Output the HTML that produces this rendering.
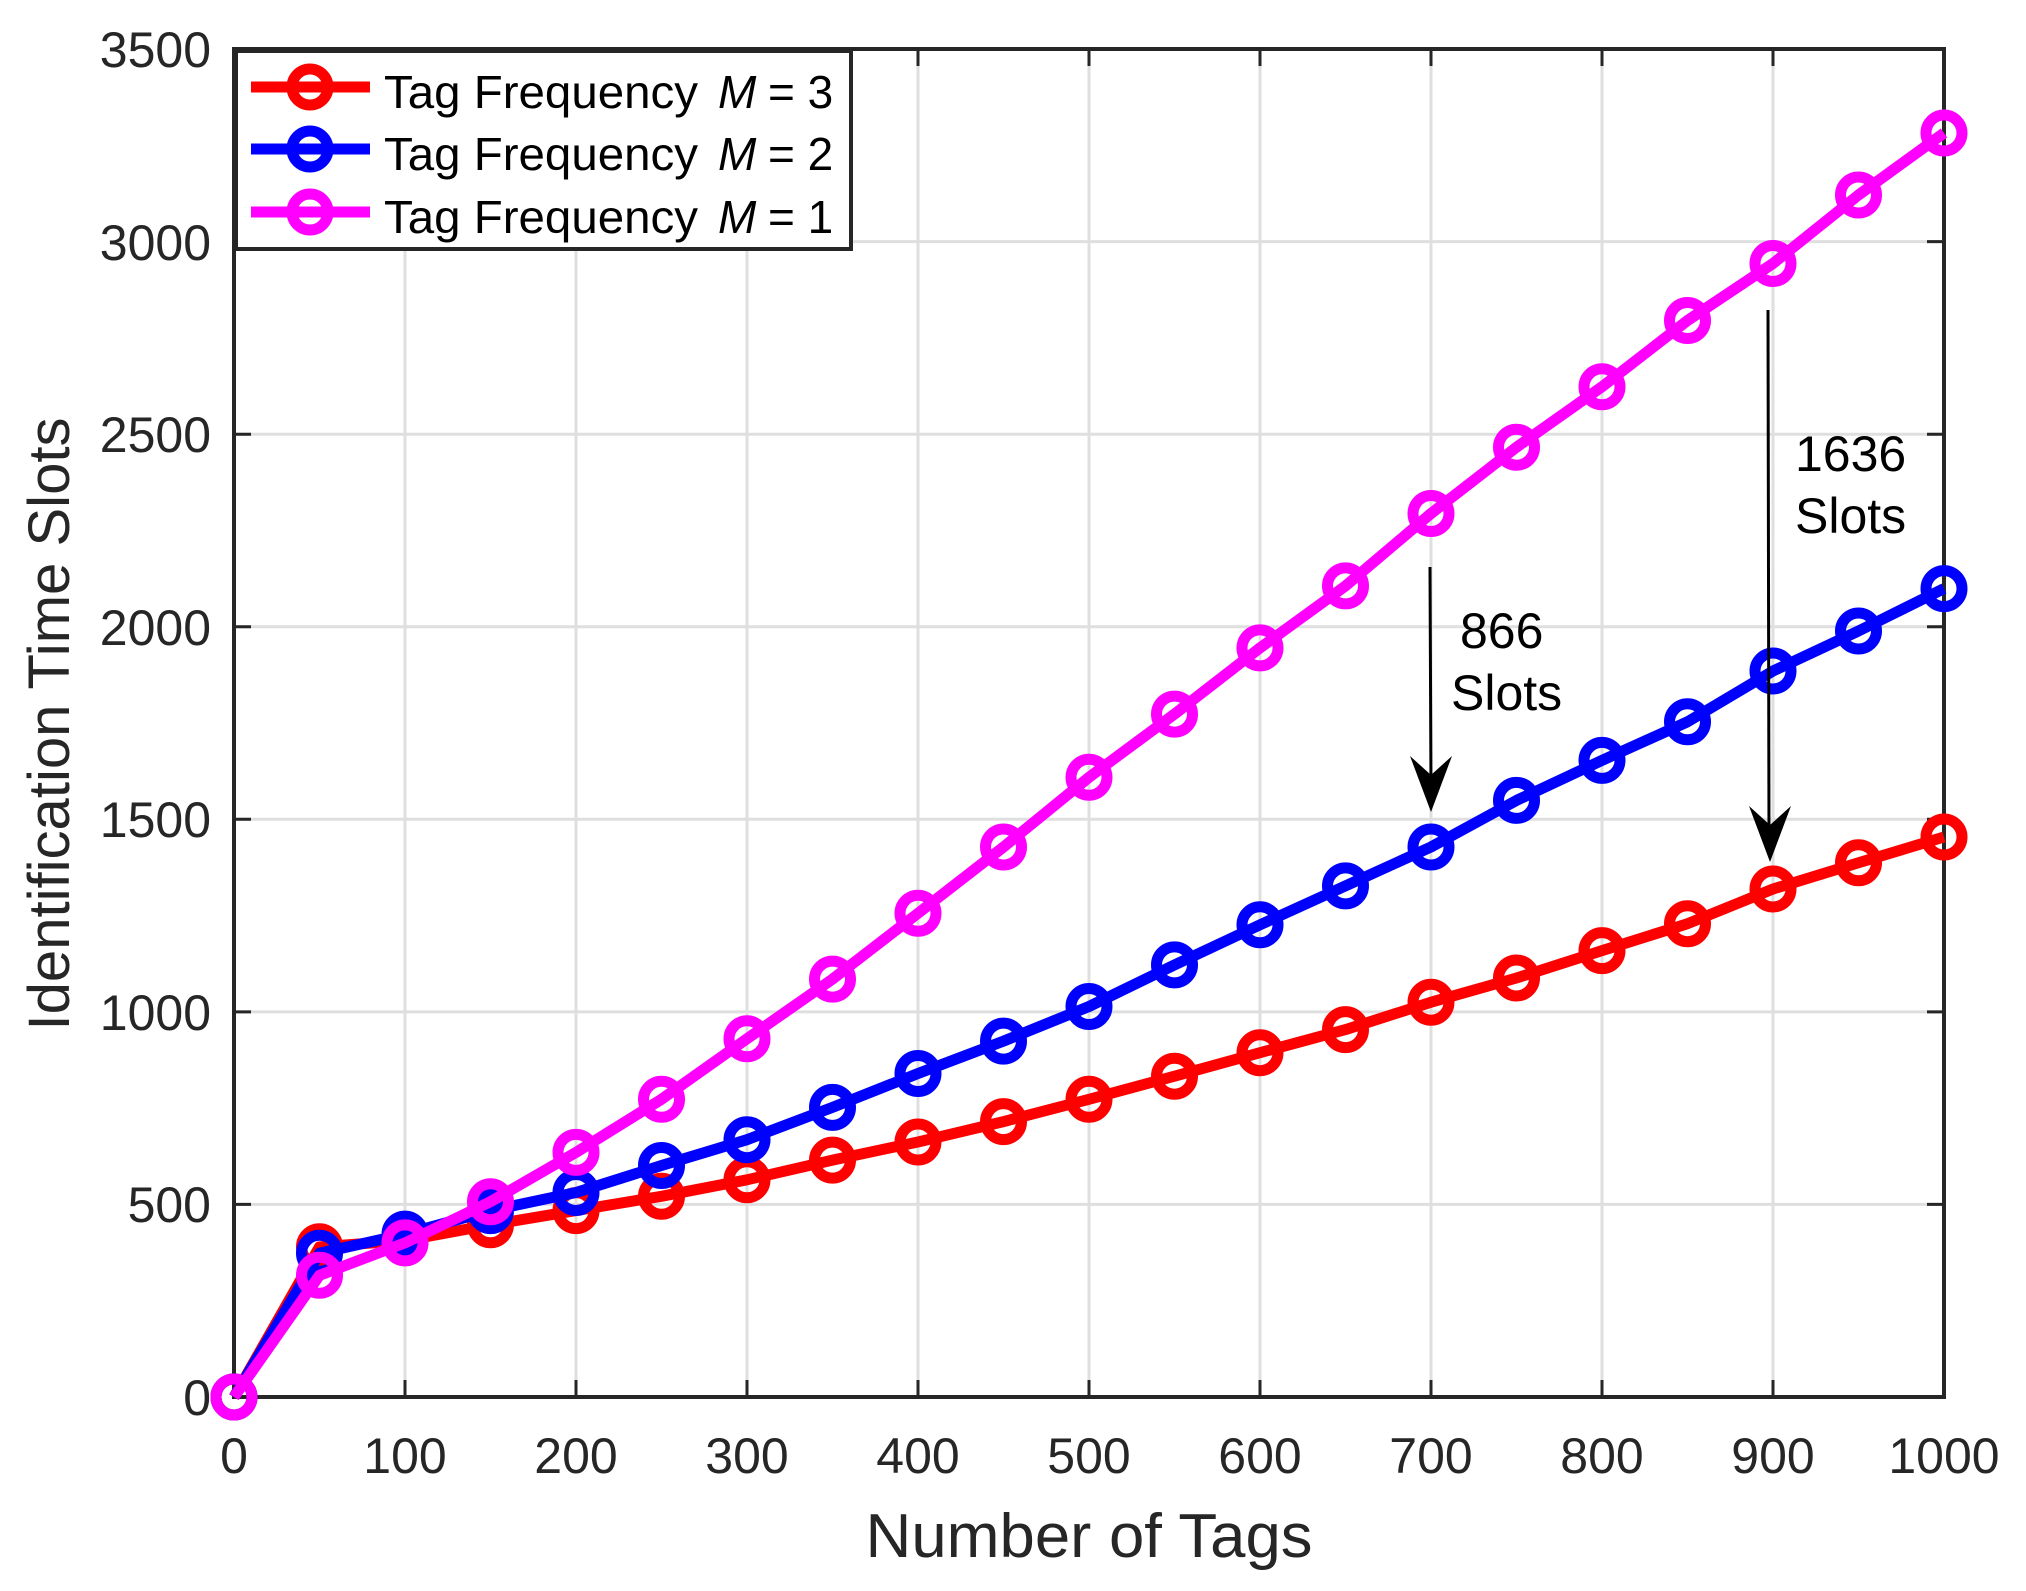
<!DOCTYPE html>
<html><head><meta charset="utf-8"><style>
html,body{margin:0;padding:0;background:#fff;}
svg{display:block;}
text{font-family:"Liberation Sans",Arial,sans-serif;}
</style></head><body>
<svg width="2026" height="1591" viewBox="0 0 2026 1591" xmlns="http://www.w3.org/2000/svg">
<rect width="2026" height="1591" fill="#fff"/>
<g stroke="#dfdfdf" stroke-width="3">
<line x1="405" y1="49" x2="405" y2="1397"/><line x1="576" y1="49" x2="576" y2="1397"/>
<line x1="747" y1="49" x2="747" y2="1397"/><line x1="918" y1="49" x2="918" y2="1397"/>
<line x1="1089" y1="49" x2="1089" y2="1397"/><line x1="1260" y1="49" x2="1260" y2="1397"/>
<line x1="1431" y1="49" x2="1431" y2="1397"/><line x1="1602" y1="49" x2="1602" y2="1397"/>
<line x1="1773" y1="49" x2="1773" y2="1397"/>
<line x1="234" y1="1204.4" x2="1944" y2="1204.4"/><line x1="234" y1="1011.9" x2="1944" y2="1011.9"/>
<line x1="234" y1="819.3" x2="1944" y2="819.3"/><line x1="234" y1="626.7" x2="1944" y2="626.7"/>
<line x1="234" y1="434.2" x2="1944" y2="434.2"/><line x1="234" y1="241.6" x2="1944" y2="241.6"/>
</g>
<g stroke="#262626" stroke-width="3">
<path d="M405 1397v-17M576 1397v-17M747 1397v-17M918 1397v-17M1089 1397v-17M1260 1397v-17M1431 1397v-17M1602 1397v-17M1773 1397v-17
M405 49v17M576 49v17M747 49v17M918 49v17M1089 49v17M1260 49v17M1431 49v17M1602 49v17M1773 49v17
M234 1204.4h17M234 1011.9h17M234 819.3h17M234 626.7h17M234 434.2h17M234 241.6h17
M1944 1204.4h-17M1944 1011.9h-17M1944 819.3h-17M1944 626.7h-17M1944 434.2h-17M1944 241.6h-17"/>
</g>
<rect x="234" y="49" width="1710" height="1348" fill="none" stroke="#262626" stroke-width="4"/>
<g fill="#262626" font-size="50" text-anchor="end">
<text x="211" y="1415">0</text><text x="211" y="1222">500</text><text x="211" y="1030">1000</text>
<text x="211" y="837">1500</text><text x="211" y="645">2000</text><text x="211" y="452">2500</text>
<text x="211" y="260">3000</text><text x="211" y="67">3500</text>
</g>
<g fill="#262626" font-size="50" text-anchor="middle">
<text x="234" y="1473">0</text><text x="405" y="1473">100</text><text x="576" y="1473">200</text>
<text x="747" y="1473">300</text><text x="918" y="1473">400</text><text x="1089" y="1473">500</text>
<text x="1260" y="1473">600</text><text x="1431" y="1473">700</text><text x="1602" y="1473">800</text>
<text x="1773" y="1473">900</text><text x="1944" y="1473">1000</text>
</g>
<text x="1089" y="1557" font-size="62" fill="#262626" text-anchor="middle" textLength="447" lengthAdjust="spacingAndGlyphs">Number of Tags</text>
<text transform="translate(69,724) rotate(-90)" font-size="58" fill="#262626" text-anchor="middle" textLength="613" lengthAdjust="spacingAndGlyphs">Identification Time Slots</text>

<g fill="none" stroke-width="11" stroke-linejoin="round">
<polyline stroke="#ff0000" points="234,1397 319.5,1246.8 405,1240.6 490.5,1224.8 576,1210.6 661.5,1196.3 747,1179.8 832.5,1160.1 918,1142 1003.5,1121.6 1089,1099.3 1174.5,1076.2 1260,1052.7 1345.5,1029.6 1431,1002.2 1516.5,978 1602,950.6 1687.5,923.7 1773,889 1858.5,862.8 1944,837"/>
<g stroke="#ff0000" stroke-width="11">
<circle cx="234" cy="1397" r="18"/><circle cx="319.5" cy="1246.8" r="18"/><circle cx="405" cy="1240.6" r="18"/><circle cx="490.5" cy="1224.8" r="18"/><circle cx="576" cy="1210.6" r="18"/><circle cx="661.5" cy="1196.3" r="18"/><circle cx="747" cy="1179.8" r="18"/><circle cx="832.5" cy="1160.1" r="18"/><circle cx="918" cy="1142" r="18"/><circle cx="1003.5" cy="1121.6" r="18"/><circle cx="1089" cy="1099.3" r="18"/><circle cx="1174.5" cy="1076.2" r="18"/><circle cx="1260" cy="1052.7" r="18"/><circle cx="1345.5" cy="1029.6" r="18"/><circle cx="1431" cy="1002.2" r="18"/><circle cx="1516.5" cy="978" r="18"/><circle cx="1602" cy="950.6" r="18"/><circle cx="1687.5" cy="923.7" r="18"/><circle cx="1773" cy="889" r="18"/><circle cx="1858.5" cy="862.8" r="18"/><circle cx="1944" cy="837" r="18"/>
</g>
<polyline stroke="#0000ff" points="234,1397 319.5,1253.3 405,1234.1 490.5,1210.6 576,1192.5 661.5,1165.5 747,1139.7 832.5,1107.4 918,1073.5 1003.5,1041.1 1089,1006.5 1174.5,964.9 1260,924.8 1345.5,885.9 1431,847 1516.5,800.4 1602,760.4 1687.5,721.8 1773,671 1858.5,631 1944,588.6"/>
<g stroke="#0000ff" stroke-width="11">
<circle cx="234" cy="1397" r="18"/><circle cx="319.5" cy="1253.3" r="18"/><circle cx="405" cy="1234.1" r="18"/><circle cx="490.5" cy="1210.6" r="18"/><circle cx="576" cy="1192.5" r="18"/><circle cx="661.5" cy="1165.5" r="18"/><circle cx="747" cy="1139.7" r="18"/><circle cx="832.5" cy="1107.4" r="18"/><circle cx="918" cy="1073.5" r="18"/><circle cx="1003.5" cy="1041.1" r="18"/><circle cx="1089" cy="1006.5" r="18"/><circle cx="1174.5" cy="964.9" r="18"/><circle cx="1260" cy="924.8" r="18"/><circle cx="1345.5" cy="885.9" r="18"/><circle cx="1431" cy="847" r="18"/><circle cx="1516.5" cy="800.4" r="18"/><circle cx="1602" cy="760.4" r="18"/><circle cx="1687.5" cy="721.8" r="18"/><circle cx="1773" cy="671" r="18"/><circle cx="1858.5" cy="631" r="18"/><circle cx="1944" cy="588.6" r="18"/>
</g>
<polyline stroke="#ff00ff" points="234,1397 319.5,1275.3 405,1242.9 490.5,1201.7 576,1152.4 661.5,1099.3 747,1038.8 832.5,979.1 918,913.3 1003.5,847 1089,777.3 1174.5,714.1 1260,647.9 1345.5,585.9 1431,513.5 1516.5,447.2 1602,386.8 1687.5,320.5 1773,263.5 1858.5,195 1944,133"/>
<g stroke="#ff00ff" stroke-width="11">
<circle cx="234" cy="1397" r="18"/><circle cx="319.5" cy="1275.3" r="18"/><circle cx="405" cy="1242.9" r="18"/><circle cx="490.5" cy="1201.7" r="18"/><circle cx="576" cy="1152.4" r="18"/><circle cx="661.5" cy="1099.3" r="18"/><circle cx="747" cy="1038.8" r="18"/><circle cx="832.5" cy="979.1" r="18"/><circle cx="918" cy="913.3" r="18"/><circle cx="1003.5" cy="847" r="18"/><circle cx="1089" cy="777.3" r="18"/><circle cx="1174.5" cy="714.1" r="18"/><circle cx="1260" cy="647.9" r="18"/><circle cx="1345.5" cy="585.9" r="18"/><circle cx="1431" cy="513.5" r="18"/><circle cx="1516.5" cy="447.2" r="18"/><circle cx="1602" cy="386.8" r="18"/><circle cx="1687.5" cy="320.5" r="18"/><circle cx="1773" cy="263.5" r="18"/><circle cx="1858.5" cy="195" r="18"/><circle cx="1944" cy="133" r="18"/>
</g>
</g>

<g stroke="#000" stroke-width="3">
<line x1="1430" y1="567" x2="1431" y2="790"/>
<line x1="1768" y1="310" x2="1769" y2="840"/>
</g>
<polygon points="1410,756 1431,812 1452,756 1431,775" fill="#000"/>
<polygon points="1749,806 1770,862 1791,806 1770,825" fill="#000"/>
<g font-size="50" fill="#000">
<text x="1460" y="648">866</text><text x="1451" y="710">Slots</text>
<text x="1795" y="471">1636</text><text x="1795" y="533">Slots</text>
</g>

<rect x="236" y="51" width="615" height="198" fill="#fff" stroke="#262626" stroke-width="4"/>
<g fill="none" stroke-width="11">
<line x1="251" y1="87" x2="370" y2="87" stroke="#ff0000"/><circle cx="310" cy="87" r="18" stroke="#ff0000"/>
<line x1="251" y1="149" x2="370" y2="149" stroke="#0000ff"/><circle cx="310" cy="149" r="18" stroke="#0000ff"/>
<line x1="251" y1="212" x2="370" y2="212" stroke="#ff00ff"/><circle cx="310" cy="212" r="18" stroke="#ff00ff"/>
</g>
<g font-size="46" fill="#000">
<text x="384" y="108"><tspan textLength="314" lengthAdjust="spacingAndGlyphs">Tag Frequency</tspan><tspan x="718" font-style="italic">M</tspan><tspan x="768">= 3</tspan></text>
<text x="384" y="170"><tspan textLength="314" lengthAdjust="spacingAndGlyphs">Tag Frequency</tspan><tspan x="718" font-style="italic">M</tspan><tspan x="768">= 2</tspan></text>
<text x="384" y="233"><tspan textLength="314" lengthAdjust="spacingAndGlyphs">Tag Frequency</tspan><tspan x="718" font-style="italic">M</tspan><tspan x="768">= 1</tspan></text>
</g>
</svg>
</body></html>
